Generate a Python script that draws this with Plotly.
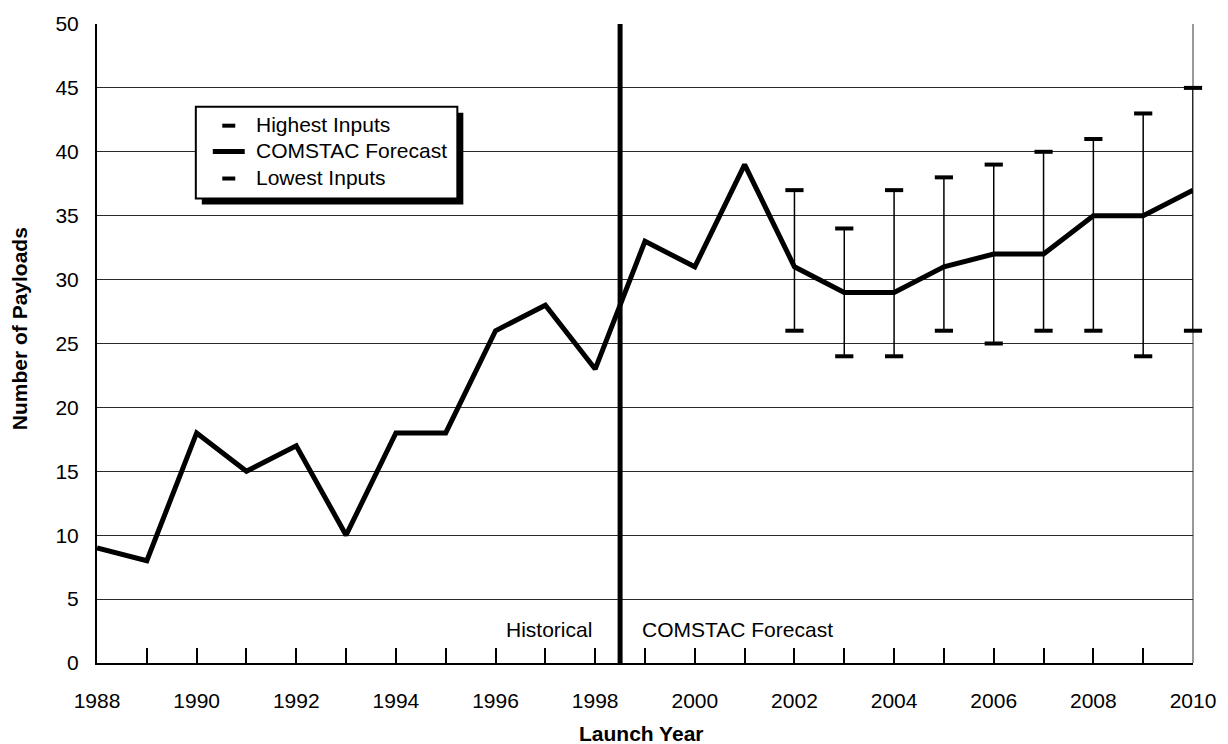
import plotly.graph_objects as go

# Payload counts: historical (1988-1998) and COMSTAC forecast (1999-2010)
years = list(range(1988, 2011))
payloads = [9, 8, 18, 15, 17, 10, 18, 18, 26, 28, 23,
            33, 31, 39, 31, 29, 29, 31, 32, 32, 35, 35, 37]

# Range of individual inputs behind the forecast
input_years = list(range(2002, 2011))
highest_inputs = [37, 34, 37, 38, 39, 40, 41, 43, 45]
lowest_inputs = [26, 24, 24, 26, 25, 26, 26, 24, 26]

divider_year = 1998.5
x_tick_labels = [str(y) if y % 2 == 0 else "" for y in years]
legend_labels = ["Highest Inputs", "COMSTAC Forecast", "Lowest Inputs"]

FONT = "Liberation Sans, Arial, Helvetica, sans-serif"
FS = 21

# plot-area geometry in pixels (used to place the hand-drawn legend)
L, R, T, B = 97, 1195, 22, 663
W, H = R - L, B - T


def px(xp):
    return (xp - L) / W


def py(yp):
    return (B - yp) / H


fig = go.Figure()

# thin vertical range lines from lowest to highest input
rx, ry = [], []
for yr, lo, hi in zip(input_years, lowest_inputs, highest_inputs):
    rx += [yr, yr, None]
    ry += [lo, hi, None]
fig.add_trace(go.Scatter(
    x=rx, y=ry, mode="lines", showlegend=False, hoverinfo="skip",
    line=dict(color="black", width=1.5), cliponaxis=False,
))

cap_marker = dict(symbol="line-ew", size=13, color="black",
                  line=dict(color="black", width=4))
fig.add_trace(go.Scatter(
    x=input_years, y=highest_inputs, mode="markers", name=legend_labels[0],
    marker=cap_marker, cliponaxis=False, showlegend=False,
))
fig.add_trace(go.Scatter(
    x=years, y=payloads, mode="lines", name=legend_labels[1],
    line=dict(color="black", width=5), cliponaxis=False, showlegend=False,
))
fig.add_trace(go.Scatter(
    x=input_years, y=lowest_inputs, mode="markers", name=legend_labels[2],
    marker=cap_marker, cliponaxis=False, showlegend=False,
))

# legend box geometry (pixels)
box_l, box_r, box_t, box_b = 196, 458, 105, 197
shadow = 6
rows = [124, 150, 177]
sym_c = 229

shapes = [
    # right border of plot area
    dict(type="line", xref="paper", yref="paper", x0=1, x1=1, y0=0, y1=1,
         line=dict(color="#999999", width=2), layer="below"),
    # historical / forecast divider
    dict(type="line", xref="x", yref="paper", x0=divider_year, x1=divider_year,
         y0=0, y1=1, line=dict(color="black", width=5), layer="above"),
    # legend shadow and box
    dict(type="rect", xref="paper", yref="paper",
         x0=px(box_l + shadow), x1=px(box_r + shadow),
         y0=py(box_b + shadow), y1=py(box_t + shadow),
         line=dict(width=0), fillcolor="black", layer="above"),
    dict(type="rect", xref="paper", yref="paper",
         x0=px(box_l), x1=px(box_r), y0=py(box_b), y1=py(box_t),
         line=dict(color="black", width=2), fillcolor="white", layer="above"),
    # legend symbols
    dict(type="line", xref="paper", yref="paper",
         x0=px(sym_c - 6.5), x1=px(sym_c + 6.5), y0=py(rows[0]), y1=py(rows[0]),
         line=dict(color="black", width=4), layer="above"),
    dict(type="line", xref="paper", yref="paper",
         x0=px(sym_c - 16), x1=px(sym_c + 16), y0=py(rows[1]), y1=py(rows[1]),
         line=dict(color="black", width=5), layer="above"),
    dict(type="line", xref="paper", yref="paper",
         x0=px(sym_c - 6.5), x1=px(sym_c + 6.5), y0=py(rows[2]), y1=py(rows[2]),
         line=dict(color="black", width=4), layer="above"),
]

annotations = [
    dict(x=px(254), y=py(r - 1.5), xref="paper", yref="paper", text=lbl,
         xanchor="left", yanchor="middle", showarrow=False,
         font=dict(family=FONT, size=FS, color="black"))
    for lbl, r in zip(legend_labels, rows)
]
annotations += [
    dict(x=divider_year, y=2.65, xref="x", yref="y", text="Historical",
         xanchor="right", yanchor="middle", xshift=-26, showarrow=False,
         font=dict(family=FONT, size=FS, color="black")),
    dict(x=divider_year, y=2.65, xref="x", yref="y", text="COMSTAC Forecast",
         xanchor="left", yanchor="middle", xshift=20, showarrow=False,
         font=dict(family=FONT, size=FS, color="black")),
    dict(x=0.5, y=py(734), xref="paper", yref="paper",
         text="<b>Launch Year</b>", showarrow=False, xanchor="center",
         yanchor="middle", xshift=-4,
         font=dict(family=FONT, size=FS, color="black")),
    dict(x=px(19), y=py(328), xref="paper", yref="paper",
         text="<b>Number of Payloads</b>", showarrow=False, textangle=-90,
         xanchor="center", yanchor="middle",
         font=dict(family=FONT, size=FS, color="black")),
]

fig.update_layout(
    width=1228, height=744,
    margin=dict(l=L, r=1228 - R, t=T, b=744 - B),
    paper_bgcolor="white", plot_bgcolor="white",
    font=dict(family=FONT, size=FS, color="black"),
    shapes=shapes, annotations=annotations,
    showlegend=False,
    xaxis=dict(
        range=[1988, 2010], tickvals=years, ticktext=x_tick_labels,
        ticks="inside", ticklen=15, tickwidth=1.5, tickcolor="black",
        showline=True, linecolor="black", linewidth=2, showgrid=False,
        zeroline=False, ticklabelstandoff=18,
        tickfont=dict(family=FONT, size=FS, color="black"),
    ),
    yaxis=dict(
        range=[0, 50], dtick=5, tick0=0, ticks="",
        showline=True, linecolor="black", linewidth=2,
        showgrid=True, gridcolor="#2a2a2a", gridwidth=1.3, zeroline=False,
        ticklabelstandoff=12,
        tickfont=dict(family=FONT, size=FS, color="black"),
    ),
)

fig.write_html("out.html")
